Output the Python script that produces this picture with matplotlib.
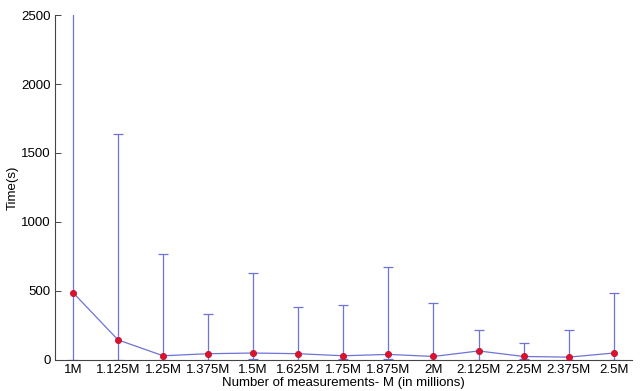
import matplotlib
matplotlib.use("Agg")
import matplotlib.pyplot as plt
import numpy as np

# data
labels = ["1M", "1.125M", "1.25M", "1.375M", "1.5M", "1.625M", "1.75M",
          "1.875M", "2M", "2.125M", "2.25M", "2.375M", "2.5M"]
median = [488, 145, 30, 45, 50, 45, 30, 40, 25, 65, 25, 20, 50]
upper = [3000, 1640, 770, 330, 630, 385, 400, 670, 410, 215, 120, 215, 485]
lower = [0, 0, 0, 0, 10, 0, 5, 5, 0, 0, 5, 0, 0]

BLUE = "#6f72d8"
RED = "#e0102a"

plt.rcParams["font.family"] = ["Liberation Sans", "DejaVu Sans"]
plt.rcParams["font.size"] = 9.5

fig = plt.figure(figsize=(6.43, 3.91), dpi=100)
ax = fig.add_axes([0.0855, 0.0795, 0.897, 0.882])

x = np.arange(1, len(labels) + 1)
med = np.array(median)
yerr = np.vstack([med - np.array(lower), np.array(upper) - med])

ax.errorbar(x, med, yerr=yerr, fmt="-", color=BLUE, ecolor=BLUE,
            elinewidth=0.9, linewidth=0.9, capsize=3.5, capthick=0.9, zorder=2)
ax.plot(x, med, "o", color=RED, markersize=4.5, markeredgecolor="#b01030",
        markeredgewidth=0.5, zorder=3)

ax.set_xlim(0.6, 13.4)
ax.set_ylim(0, 2500)
ax.set_yticks([0, 500, 1000, 1500, 2000, 2500])
ax.set_xticks(x)
ax.set_xticklabels(labels)

for side in ["top", "right"]:
    ax.spines[side].set_visible(False)
for side in ["left", "bottom"]:
    ax.spines[side].set_color("#444444")
    ax.spines[side].set_linewidth(0.8)
ax.tick_params(direction="in", length=4, width=0.7, color="#444444", pad=3)

ax.set_xlabel("Number of measurements- M (in millions)", labelpad=1)
ax.set_ylabel("Time(s)", labelpad=2)

fig.savefig("out.png", dpi=100, facecolor="white")
